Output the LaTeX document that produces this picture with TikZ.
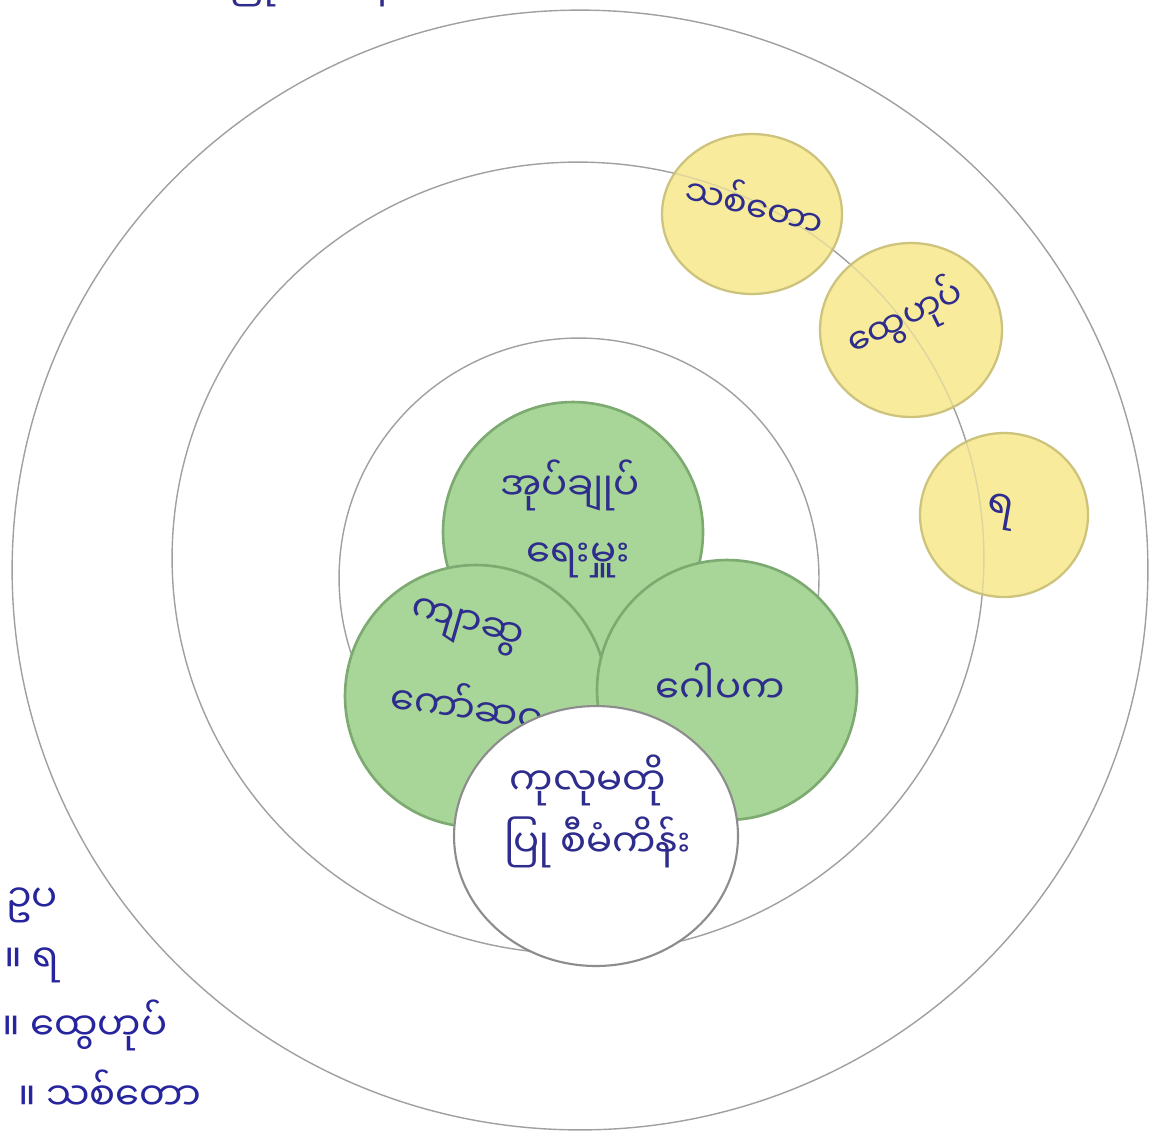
\documentclass[tikz,border=0pt]{standalone}
\usepackage{fontspec}
\newfontfamily\mya[Script=Myanmar]{Noto Sans Myanmar UI}
\usetikzlibrary{shapes.geometric}
\definecolor{ink}{RGB}{46,44,140}
\definecolor{ringgray}{RGB}{160,160,160}
\definecolor{grnfill}{RGB}{168,214,152}
\definecolor{grnline}{RGB}{125,170,112}
\definecolor{yelfill}{RGB}{248,236,156}
\definecolor{yelline}{RGB}{205,195,125}
\definecolor{whtline}{RGB}{140,140,140}
\begin{document}
\begin{tikzpicture}[x=0.02cm,y=-0.02cm,
  ring/.style={ellipse,draw=ringgray,line width=0.8pt,inner sep=0pt},
  yel/.style={ellipse,draw=yelline,fill=yelfill,line width=1.3pt,inner sep=0pt},
  grn/.style={ellipse,draw=grnline,fill=grnfill,line width=1.5pt,inner sep=0pt},
  wht/.style={ellipse,draw=whtline,fill=white,line width=1.2pt,inner sep=0pt},
  lbl/.style={text=ink,font=\mya\fontsize{22}{28}\selectfont,inner sep=0pt,align=center},
  small/.style={lbl,font=\mya\fontsize{20}{26}\selectfont},
  legend/.style={lbl,anchor=west,text=ink!85!blue}]
\useasboundingbox (0,0) rectangle (1151,1134);
\clip (0,0) rectangle (1151,1134);
\fill[white] (0,0) rectangle (1151,1134);
% rings
\node[ring,minimum width=22.72cm,minimum height=22.4cm] (outer) at (580,570) {};
\node[ring,minimum width=16.24cm,minimum height=15.84cm] (middle) at (578,558) {};
\node[ring,minimum width=9.6cm,minimum height=9.6cm] (inner) at (579,578) {};
% yellow circles on the middle ring
\node[yel,minimum width=3.6cm,minimum height=3.2cm] (forest) at (752,214) {};
\node[yel,minimum width=3.64cm,minimum height=3.48cm] (stream) at (911,330) {};
\node[yel,minimum width=3.36cm,minimum height=3.28cm] (water) at (1004,515) {};
% faint ring showing through the paper
\begin{scope}
  \clip (752,214) ellipse [x radius=1.8cm,y radius=1.6cm]
        (911,330) ellipse [x radius=1.82cm,y radius=1.74cm]
        (1004,515) ellipse [x radius=1.68cm,y radius=1.64cm];
  \node[ring,draw opacity=0.3,minimum width=16.24cm,minimum height=15.84cm] (middleshade) at (578,558) {};
\end{scope}
% green circles
\node[grn,minimum width=5.2cm,minimum height=5.2cm] (admin) at (573,532) {};
\node[lbl] (tadmin1) at (570,485) {အုပ်ချုပ်};
\node[lbl] (tadmin2) at (578,560) {ရေးမှူး};
\node[grn,minimum width=5.24cm,minimum height=5.24cm] (committee) at (476,696) {};
\node[lbl,rotate=-16] (tcomm1) at (466,628) {ကျာဆွ};
\node[lbl,rotate=-8] (tcomm2) at (468,704) {ကော်ဆဝ};
\node[grn,minimum width=5.2cm,minimum height=5.2cm] (trustee) at (727,690) {};
\node[lbl] (ttrust) at (720,683) {ဂေါပက};
% white centre circle
\node[wht,minimum width=5.68cm,minimum height=5.2cm] (centre) at (596,836) {};
\node[lbl] (tcentre1) at (588,780) {ကုလုမတို};
\node[lbl] (tcentre2) at (598,842) {ပြု စီမံကိန်း};
% yellow labels
\node[small,rotate=-14] (tforest) at (755,203) {သစ်တော};
\node[small,rotate=26] (tstream) at (905,318) {ထွေဟုပ်};
\node[lbl,rotate=-10] (twater) at (1000,512) {ရ};
% title cut at the top edge
\node[lbl,anchor=base] (title) at (318,-4) {ပြုစီမံကိန်း};
% legend cut at the left edge
\node[legend] (lg1) at (6,905) {ဥပ};
\node[legend] (lg2) at (4,965) {။ ရ};
\node[legend] (lg3) at (2,1025) {။ ထွေဟုပ်};
\node[legend] (lg4) at (18,1090) {။ သစ်တော};
\end{tikzpicture}
\end{document}
